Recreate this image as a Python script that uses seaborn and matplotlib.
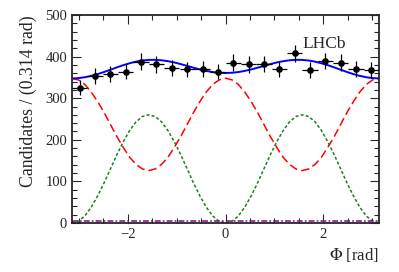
import numpy as np
import pandas as pd
import matplotlib
matplotlib.use('Agg')
import matplotlib.pyplot as plt
import seaborn as sns
from matplotlib.ticker import MultipleLocator

# binned data: 20 bins of 0.314 rad between -pi and pi
bin_centres = [-2.985, -2.670, -2.356, -2.042, -1.728, -1.414, -1.100, -0.785, -0.471, -0.157,
               0.157, 0.471, 0.785, 1.100, 1.414, 1.728, 2.042, 2.356, 2.670, 2.985]
counts = [325, 353, 358, 364, 388, 381, 373, 369, 370, 364,
          385, 381, 382, 369, 408, 368, 389, 385, 370, 368]
count_err = [18, 19, 19, 19, 20, 20, 19, 19, 19, 19,
             20, 20, 20, 19, 20, 19, 20, 20, 19, 19]
bin_half = 0.157

# fit components, read every pi/24 from -pi to pi
phi_grid = [-3.142, -3.011, -2.880, -2.749, -2.618, -2.487, -2.356, -2.225, -2.094, -1.963,
            -1.833, -1.702, -1.571, -1.440, -1.309, -1.178, -1.047, -0.916, -0.785, -0.654,
            -0.524, -0.393, -0.262, -0.131, 0.0, 0.131, 0.262, 0.393, 0.524, 0.654,
            0.785, 0.916, 1.047, 1.178, 1.309, 1.440, 1.571, 1.702, 1.833, 1.963,
            2.094, 2.225, 2.356, 2.487, 2.618, 2.749, 2.880, 3.011, 3.142]
total_fit = [347.5, 348.2, 350.3, 353.6, 357.9, 362.9, 368.4, 374.0, 379.3, 383.9,
             387.8, 390.5, 392.0, 392.2, 391.1, 388.9, 385.8, 381.9, 377.6, 373.2,
             369.1, 365.6, 362.8, 361.1, 360.5, 361.1, 362.8, 365.6, 369.1, 373.2,
             377.6, 381.9, 385.8, 388.9, 391.1, 392.2, 392.0, 390.5, 387.8, 383.9,
             379.3, 374.0, 368.4, 362.9, 357.9, 353.6, 350.3, 348.2, 347.5]
comp_red = [347, 344, 333, 315, 292, 266, 237, 208, 182, 158, 141, 130, 126,
            130, 141, 158, 182, 208, 237, 266, 292, 315, 333, 344, 348,
            344, 333, 315, 292, 266, 237, 208, 182, 158, 141, 130, 126,
            130, 141, 158, 182, 208, 237, 266, 292, 315, 333, 344, 347]
comp_green = [0, 4, 17, 38, 65, 96, 130, 164, 195, 222, 243, 256, 260,
              256, 243, 222, 195, 164, 130, 96, 65, 38, 17, 4, 0,
              4, 17, 38, 65, 96, 130, 164, 195, 222, 243, 256, 260,
              256, 243, 222, 195, 164, 130, 96, 65, 38, 17, 4, 0]
comp_bkg = [6] * 49

sns.set_style('ticks')
plt.rcParams['font.family'] = ['Liberation Serif', 'DejaVu Serif']
plt.rcParams['mathtext.fontset'] = 'stix'

fig = plt.figure(figsize=(3.99, 2.72), dpi=100)
ax = fig.add_axes([0.1805, 0.180, 0.7695, 0.765])

curves = pd.DataFrame({'phi': phi_grid, 'total': total_fit, 'red': comp_red,
                       'green': comp_green, 'bkg': comp_bkg})

sns.lineplot(data=curves, x='phi', y='red', ax=ax, color='#ff0000', lw=1.1).lines[-1].set_dashes([5.5, 2.6])
sns.lineplot(data=curves, x='phi', y='green', ax=ax, color='#1e7f1e', lw=1.1).lines[-1].set_dashes([2.0, 1.4])
sns.lineplot(data=curves, x='phi', y='bkg', ax=ax, color='#8b1a8b', lw=1.2).lines[-1].set_dashes([3.5, 1.3, 1, 1.3])
sns.lineplot(data=curves, x='phi', y='total', ax=ax, color='#0000ff', lw=1.4)

ax.errorbar(bin_centres, counts, xerr=bin_half, yerr=count_err, fmt='o', color='black',
            ms=3.8, elinewidth=0.9, capsize=0, zorder=5)

ax.set_xlim(-np.pi, np.pi)
ax.set_ylim(0, 500)
ax.xaxis.set_major_locator(MultipleLocator(2))
ax.xaxis.set_minor_locator(MultipleLocator(0.5))
ax.yaxis.set_major_locator(MultipleLocator(100))
ax.yaxis.set_minor_locator(MultipleLocator(20))
ax.tick_params(which='both', direction='in', top=True, right=True, labelsize=10.5, width=0.8)
ax.tick_params(which='major', length=6.5)
ax.tick_params(which='minor', length=3.5)
for s in ax.spines.values():
    s.set_linewidth(1.3)

ax.set_xlabel(r'$\Phi$ [rad]', fontsize=12, loc='right')
ax.set_ylabel('Candidates / (0.314 rad)', fontsize=12.8, loc='top', labelpad=6)
ax.text(0.75, 0.84, 'LHCb', transform=ax.transAxes, fontsize=12.5)

fig.savefig('out.png', dpi=100)
